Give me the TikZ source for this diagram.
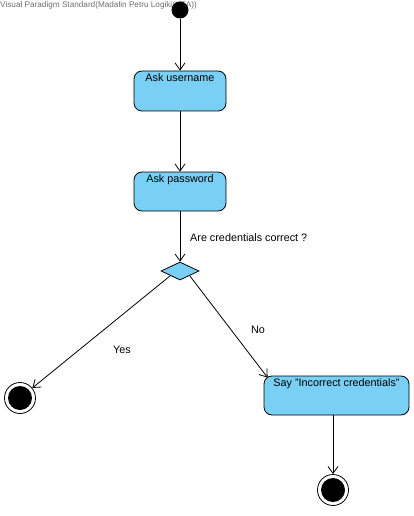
\documentclass[tikz,border=0pt]{standalone}
\usepackage{fontspec}
\setmainfont{Liberation Sans}
\usetikzlibrary{shapes.geometric,arrows.meta}
\definecolor{actfill}{HTML}{7ACFF5}
\definecolor{hdrgray}{HTML}{6E6E6E}
\begin{document}
\begin{tikzpicture}[x=1pt,y=-1pt,
  every node/.style={font=\fontsize{10.8}{12}\selectfont},
  flow/.style={draw=black,line width=0.8pt,-{Straight Barb[length=7pt,width=10pt,line width=0.8pt]}},
  action/.style={draw=black,line width=0.8pt,fill=actfill,rounded corners=8pt,
    minimum width=92pt,inner sep=0pt},
  startdot/.style={circle,fill=black,minimum size=17pt,inner sep=0pt},
  enddot/.style={circle,draw=black,line width=0.8pt,fill=white,minimum size=31pt,inner sep=0pt,
    path picture={\fill[black] (path picture bounding box.center) circle (12pt);}},
  decision/.style={diamond,draw=black,line width=0.8pt,fill=actfill,minimum width=38pt,
    minimum height=18pt,inner sep=0pt},
  boxtext/.style={anchor=north,yshift=-2pt,inner sep=1pt}
]
\useasboundingbox (0,0) rectangle (413,516);
% header
\node[anchor=north west,inner sep=0pt,text=hdrgray,font=\fontsize{8.2}{9}\selectfont] (hdr) at (0,1)
  {Visual Paradigm Standard(Madalin Petru Logiki(KEA))};
% nodes
\node[startdot] (start) at (180,10) {};
\node[action,minimum height=40pt,label={[boxtext]north:Ask username}] (user) at (180,91) {};
\node[action,minimum height=39pt,label={[boxtext]north:Ask password}] (pass) at (180,191.5) {};
\node[decision] (dec) at (180,271) {};
\node[anchor=west,inner sep=0pt] (q) at (190,238) {Are credentials correct ?};
\node[enddot] (endl) at (20,398) {};
\node[action,minimum width=145pt,minimum height=39pt,
  label={[boxtext]north:Say "Incorrect credentials"}] (say) at (336.5,395.5) {};
\node[enddot] (endb) at (333,490) {};
\node[inner sep=0pt] (yes) at (122,350) {Yes};
\node[inner sep=0pt] (no) at (258,330) {No};
% connectors
\draw[flow] (start) -- (user);
\draw[flow] (user) -- (pass);
\draw[flow] (pass) -- (dec);
\draw[flow] (dec.south west) -- (endl);
\draw[flow] (dec.south east) -- ([xshift=4pt,yshift=-2pt]say.north west);
\draw[flow] (say.south -| endb) -- (endb);
\end{tikzpicture}
\end{document}
